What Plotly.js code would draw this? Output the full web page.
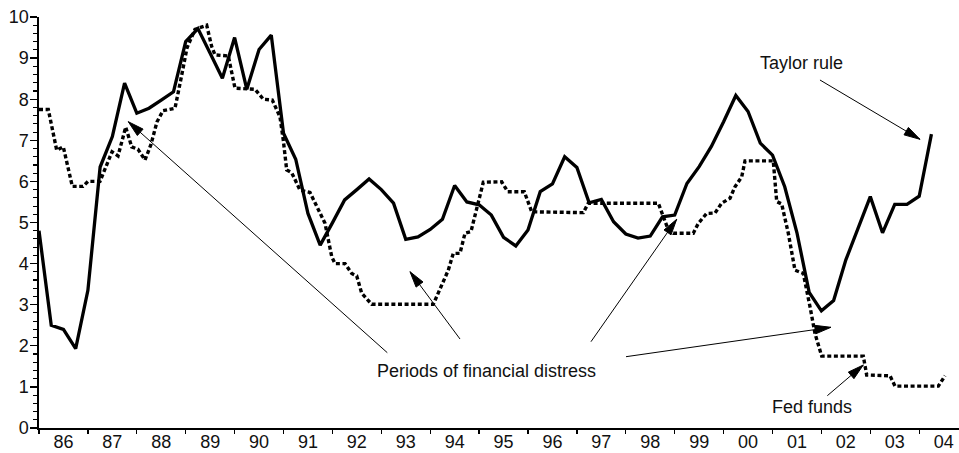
<!DOCTYPE html>
<html>
<head>
<meta charset="utf-8">
<script src="https://cdn.plot.ly/plotly-3.0.1.min.js"></script>
<style>
  html, body { margin: 0; padding: 0; background: #fff; }
  #chart { width: 959px; height: 453px; }
</style>
</head>
<body>
<div id="chart"></div>
<script>
// ---- Data ----
// Taylor rule, quarterly from 1986 Q1
const taylorStart = 1986;
const taylorRule = [4.8, 2.5, 2.4, 1.93, 3.35, 6.35, 7.09, 8.39, 7.66, 7.78,
  7.98, 8.18, 9.4, 9.72, 9.12, 8.51, 9.5, 8.24, 9.21, 9.56,
  7.17, 6.54, 5.22, 4.45, 4.99, 5.55, 5.8, 6.06, 5.8, 5.47,
  4.59, 4.65, 4.83, 5.08, 5.9, 5.5, 5.43, 5.18, 4.64, 4.43,
  4.82, 5.75, 5.94, 6.6, 6.34, 5.48, 5.56, 5.02, 4.72, 4.62,
  4.67, 5.14, 5.18, 5.95, 6.36, 6.85, 7.45, 8.09, 7.7, 6.93,
  6.64, 5.87, 4.75, 3.3, 2.85, 3.1, 4.09, 4.85, 5.63, 4.75,
  5.44, 5.44, 5.64, 7.15];

// Fed funds rate (decimal year, percent)
const fedDates = [1986.000, 1986.190, 1986.362, 1986.497, 1986.681, 1986.900, 1987.002, 1987.247,
  1987.493, 1987.616, 1987.773, 1987.896, 1988.025, 1988.168, 1988.290, 1988.413, 1988.536,
  1988.781, 1988.904, 1989.027, 1989.190, 1989.429, 1989.532, 1989.599, 1989.871, 1990.008,
  1990.417, 1990.587, 1990.771, 1990.928, 1990.996, 1991.065, 1991.168, 1991.337, 1991.542,
  1991.679, 1991.849, 1991.986, 1992.053, 1992.258, 1992.395, 1992.497, 1992.599, 1992.804,
  1994.063, 1994.370, 1994.472, 1994.609, 1994.712, 1994.834, 1995.086, 1995.462, 1995.585,
  1995.924, 1996.076, 1997.131, 1997.233, 1998.665, 1998.767, 1998.869, 1998.971, 1999.380,
  1999.483, 1999.654, 1999.824, 1999.961, 2000.131, 2000.233, 2000.370, 2000.438, 2001.016,
  2001.086, 2001.188, 2001.323, 2001.460, 2001.630, 2001.767, 2001.869, 2002.006, 2002.857,
  2002.926, 2003.403, 2003.505, 2004.391, 2004.528];
const fedFunds = [7.75, 7.75, 6.76, 6.84, 5.88, 5.88, 6.0, 6.0,
  6.72, 6.62, 7.32, 6.84, 6.78, 6.52, 6.9, 7.45, 7.72,
  7.78, 8.5, 9.25, 9.7, 9.8, 9.28, 9.08, 9.05, 8.27,
  8.24, 8.0, 7.98, 7.57, 7.0, 6.28, 6.21, 5.79, 5.73,
  5.38, 4.98, 4.17, 4.0, 4.0, 3.76, 3.7, 3.28, 3.01,
  3.01, 3.84, 4.25, 4.25, 4.74, 4.78, 5.98, 5.99, 5.75,
  5.75, 5.26, 5.24, 5.47, 5.47, 5.16, 4.82, 4.74, 4.74,
  4.98, 5.22, 5.23, 5.47, 5.59, 5.87, 6.11, 6.5, 6.5,
  5.51, 5.45, 4.74, 3.84, 3.76, 2.95, 2.3, 1.75, 1.75,
  1.29, 1.27, 1.02, 1.02, 1.27];

// Axis labels
const yearTicks = [1986,1987,1988,1989,1990,1991,1992,1993,1994,1995,1996,1997,1998,1999,2000,2001,2002,2003,2004];
const yearLabels = ['86','87','88','89','90','91','92','93','94','95','96','97','98','99','00','01','02','03','04'];

// Annotation texts and arrows
const labels = [
  {text: 'Taylor rule', x: 2001.583, y: 8.874},
  {text: 'Periods of financial distress', x: 1995.155, y: 1.394},
  {text: 'Fed funds', x: 2001.808, y: 0.518}
];
const arrows = [ // [tailX, tailY, tipX, tipY]
  [2001.971, 8.467, 2004.016, 7.024],
  [1993.123, 1.832, 1987.826, 7.453],
  [1994.610, 2.165, 1993.587, 3.803],
  [1997.288, 2.100, 1999.041, 5.078],
  [1998.004, 1.735, 2002.196, 2.450],
  [2002.121, 0.786, 2002.857, 1.533]
];

// ---- Layout geometry ----
const W = 959, H = 453;
const mL = 39, mR = 0, mT = 17, mB = 25;
const xMin = 1986, xMax = 1986 + 920 / 48.9;
const yMin = 0, yMax = 10;
const pxX = (W - mL - mR) / (xMax - xMin);
const pxY = (H - mT - mB) / (yMax - yMin);

const taylorDates = taylorRule.map((_, i) => taylorStart + i / 4);
const yearMids = yearTicks.map(y => y + 0.5);

const font = {family: 'Arial, "Liberation Sans", sans-serif', size: 18, color: '#111'};

const traces = [
  {x: fedDates, y: fedFunds, type: 'scatter', mode: 'lines', name: 'Fed funds',
   line: {color: '#000', width: 3.4, dash: '4px,2.6px'}, hoverinfo: 'skip'},
  {x: taylorDates, y: taylorRule, type: 'scatter', mode: 'lines', name: 'Taylor rule',
   line: {color: '#000', width: 3.3}, hoverinfo: 'skip'},
  {x: [xMin], y: [-1], xaxis: 'x2', type: 'scatter', mode: 'markers', showlegend: false,
   marker: {opacity: 0}, hoverinfo: 'skip'}
];

const shapes = [];
const HL = 16, HW = 4.3;
arrows.forEach(a => {
  const [tx, ty, hx, hy] = a;
  shapes.push({type: 'line', xref: 'x', yref: 'y', x0: tx, y0: ty, x1: hx, y1: hy,
    line: {color: '#000', width: 1}});
  const dx = (tx - hx) * pxX, dy = (ty - hy) * pxY;
  const len = Math.hypot(dx, dy);
  const ux = dx / len, uy = dy / len;
  const bx = ux * HL, by = uy * HL;
  const qx = -uy * HW, qy = ux * HW;
  shapes.push({type: 'path', xref: 'x', yref: 'y', xsizemode: 'pixel', ysizemode: 'pixel',
    xanchor: hx, yanchor: hy,
    path: `M0,0L${(bx + qx).toFixed(2)},${(by + qy).toFixed(2)}L${(bx - qx).toFixed(2)},${(by - qy).toFixed(2)}Z`,
    fillcolor: '#000', line: {color: '#000', width: 1}});
});

const annotations = labels.map(l => ({
  text: l.text, x: l.x, y: l.y, xref: 'x', yref: 'y', showarrow: false,
  xanchor: 'center', yanchor: 'middle', font: font
}));

const layout = {
  width: W, height: H,
  margin: {l: mL, r: mR, t: mT, b: mB, pad: 0},
  paper_bgcolor: '#fff', plot_bgcolor: '#fff',
  showlegend: false,
  font: font,
  xaxis: {
    range: [xMin, xMax], tickmode: 'array', tickvals: yearTicks, showticklabels: false,
    ticks: 'outside', ticklen: 4, tickwidth: 1.3, tickcolor: '#000',
    showline: true, linecolor: '#000', linewidth: 1.6, showgrid: false, zeroline: false,
    fixedrange: true
  },
  xaxis2: {
    overlaying: 'x', side: 'bottom', anchor: 'y', matches: 'x',
    range: [xMin, xMax], tickmode: 'array', tickvals: yearMids, ticktext: yearLabels,
    ticks: '', ticklen: 0, ticklabelstandoff: 1,
    showline: false, showgrid: false, zeroline: false, tickfont: font
  },
  yaxis: {
    range: [yMin, yMax], tickmode: 'linear', tick0: 0, dtick: 1,
    ticks: 'outside', ticklen: 7, tickwidth: 1.3, tickcolor: '#000',
    minor: {dtick: 0.2, ticks: 'outside', ticklen: 4, tickwidth: 1.1, tickcolor: '#000', showgrid: false},
    showline: true, linecolor: '#000', linewidth: 1.6, showgrid: false, zeroline: false,
    tickfont: font, ticklabelstandoff: -2, fixedrange: true
  },
  shapes: shapes,
  annotations: annotations
};

Plotly.newPlot('chart', traces, layout, {staticPlot: true, displayModeBar: false});
</script>
</body>
</html>
